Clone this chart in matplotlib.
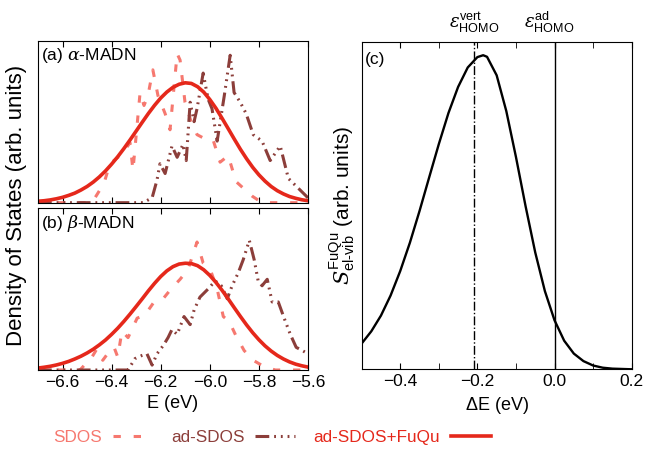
import numpy as np
import matplotlib
matplotlib.use("Agg")
import matplotlib.pyplot as plt

plt.rcParams['font.family'] = ['Liberation Sans', 'DejaVu Sans']
plt.rcParams['mathtext.fontset'] = 'custom'
plt.rcParams['mathtext.rm'] = 'Liberation Sans'
plt.rcParams['mathtext.it'] = 'DejaVu Serif:italic'
plt.rcParams['font.size'] = 12

# ---- data ----
# SDOS, panel (a)
sdos_a_E = [-6.70, -6.48, -6.431, -6.415, -6.399, -6.358, -6.325, -6.313, -6.284, -6.268,
            -6.252, -6.232, -6.211, -6.182, -6.162, -6.133, -6.121, -6.101, -6.076, -6.052,
            -6.027, -5.987, -5.958, -5.925, -5.893, -5.827, -5.787, -5.60]
sdos_a = [0.0, 0.0, 0.12, 0.20, 0.25, 0.30, 0.37, 0.20, 0.68, 0.60,
          0.66, 0.82, 0.66, 0.55, 0.45, 0.92, 0.88, 0.62, 0.50, 0.42,
          0.40, 0.39, 0.25, 0.29, 0.13, 0.04, 0.0, 0.0]

# ad-SDOS, panel (a)
adsdos_a_E = [-6.70, -6.272, -6.235, -6.215, -6.203, -6.182, -6.154, -6.133, -6.109, -6.096,
              -6.080, -6.064, -6.052, -6.027, -6.007, -5.991, -5.970, -5.941, -5.917, -5.901,
              -5.876, -5.852, -5.823, -5.787, -5.754, -5.713, -5.680, -5.640, -5.60]
adsdos_a = [0.0, 0.0, 0.03, 0.14, 0.24, 0.18, 0.35, 0.28, 0.36, 0.26,
            0.62, 0.50, 0.58, 0.80, 0.64, 0.58, 0.38, 0.66, 0.91, 0.68,
            0.62, 0.55, 0.42, 0.38, 0.26, 0.35, 0.15, 0.09, 0.03]

# SDOS, panel (b)
sdos_b_E = [-6.70, -6.529, -6.480, -6.460, -6.436, -6.407, -6.390, -6.375, -6.358, -6.333,
            -6.296, -6.264, -6.227, -6.190, -6.158, -6.121, -6.089, -6.052, -6.027, -5.998,
            -5.970, -5.945, -5.921, -5.893, -5.860, -5.823, -5.778, -5.733, -5.60]
sdos_b = [0.0, 0.0, 0.08, 0.13, 0.06, 0.12, 0.14, 0.08, 0.24, 0.20,
          0.32, 0.34, 0.42, 0.44, 0.50, 0.56, 0.62, 0.79, 0.66, 0.62,
          0.50, 0.33, 0.30, 0.21, 0.12, 0.06, 0.02, 0.0, 0.0]

# ad-SDOS, panel (b)
adsdos_b_E = [-6.70, -6.333, -6.305, -6.276, -6.256, -6.235, -6.215, -6.190, -6.170, -6.154,
              -6.133, -6.105, -6.080, -6.064, -6.040, -6.007, -5.978, -5.953, -5.929, -5.909,
              -5.884, -5.864, -5.839, -5.819, -5.803, -5.787, -5.766, -5.746, -5.721, -5.697,
              -5.672, -5.648, -5.623, -5.60]
adsdos_b = [0.0, 0.0, 0.07, 0.09, 0.10, 0.03, 0.10, 0.15, 0.20, 0.25,
            0.22, 0.33, 0.28, 0.37, 0.45, 0.50, 0.55, 0.52, 0.44, 0.52,
            0.60, 0.68, 0.80, 0.68, 0.55, 0.52, 0.56, 0.42, 0.42, 0.32,
            0.22, 0.14, 0.12, 0.10]

# ad-SDOS+FuQu on a 0.025 eV grid
fuqu_E = np.round(np.arange(-6.700, -5.5999, 0.025), 3)
fuqu_a = [0.009, 0.012, 0.017, 0.024, 0.033, 0.045, 0.059, 0.078, 0.100, 0.127,
          0.159, 0.196, 0.238, 0.284, 0.334, 0.387, 0.442, 0.497, 0.551, 0.601,
          0.646, 0.683, 0.712, 0.731, 0.740, 0.736, 0.716, 0.683, 0.637, 0.583,
          0.521, 0.457, 0.392, 0.329, 0.271, 0.218, 0.172, 0.133, 0.100, 0.074,
          0.054, 0.038, 0.027, 0.018, 0.012]
fuqu_b = [0.012, 0.017, 0.023, 0.031, 0.041, 0.053, 0.068, 0.085, 0.105, 0.128,
          0.155, 0.185, 0.220, 0.258, 0.300, 0.345, 0.392, 0.440, 0.489, 0.535,
          0.577, 0.612, 0.638, 0.654, 0.659, 0.657, 0.644, 0.619, 0.584, 0.541,
          0.492, 0.439, 0.384, 0.330, 0.278, 0.230, 0.187, 0.149, 0.117, 0.090,
          0.068, 0.050, 0.036, 0.026, 0.018]

# panel (c): FuQu el-vib spectral function
dE = [-0.5, -0.475, -0.45, -0.425, -0.4, -0.375, -0.35, -0.325, -0.3, -0.275,
      -0.25, -0.225, -0.2, -0.185, -0.175, -0.15, -0.125, -0.1, -0.075, -0.05,
      -0.025, 0.0, 0.025, 0.05, 0.075, 0.1, 0.125, 0.15, 0.175, 0.2]
s_elvib = [0.082, 0.121, 0.171, 0.235, 0.313, 0.403, 0.504, 0.611, 0.717, 0.816,
           0.899, 0.961, 0.994, 1.000, 0.995, 0.936, 0.822, 0.676, 0.519, 0.372,
           0.249, 0.156, 0.091, 0.050, 0.026, 0.012, 0.005, 0.002, 0.001, 0.0]
e_vert = -0.208
e_ad = 0.0

c_sdos = '#f6786f'
c_ad = '#8c3e3a'
c_fuqu = '#e5281b'

# ---- figure ----
fig = plt.figure(figsize=(6.47, 4.51), dpi=100)
ax_a = fig.add_axes([0.0587, 0.5506, 0.4173, 0.3592])
ax_b = fig.add_axes([0.0587, 0.1796, 0.4173, 0.3592])
ax_c = fig.add_axes([0.559, 0.1812, 0.4173, 0.7263])

dash_sdos = (0, (2.4, 4.2))
dash_ad = (0, (4.5, 1.6, 0.6, 1.6, 0.6, 1.6, 0.6, 1.6))

for ax, (sE, s, aE, a, f, lab) in zip(
        [ax_a, ax_b],
        [(sdos_a_E, sdos_a, adsdos_a_E, adsdos_a, fuqu_a, r'(a) $\alpha$-MADN'),
         (sdos_b_E, sdos_b, adsdos_b_E, adsdos_b, fuqu_b, r'(b) $\beta$-MADN')]):
    ax.plot(sE, s, color=c_sdos, lw=2.2, ls=dash_sdos, label='SDOS')
    ax.plot(aE, a, color=c_ad, lw=2.2, ls=dash_ad, label='ad-SDOS')
    ax.plot(fuqu_E, f, color=c_fuqu, lw=2.6, label='ad-SDOS+FuQu')
    ax.set_xlim(-6.7, -5.6)
    ax.set_ylim(0, 1)
    ax.set_xticks([-6.6, -6.4, -6.2, -6.0, -5.8, -5.6])
    ax.set_yticks([])
    ax.tick_params(axis='x', direction='in', top=True, length=4, labelsize=12.5)
    ax.text(0.012, 0.97, lab, transform=ax.transAxes, ha='left', va='top', fontsize=12.5)

ax_a.tick_params(axis='x', labelbottom=False)
ax_b.set_xlabel('E (eV)', fontsize=13)

ax_c.plot(dE, s_elvib, color='black', lw=1.7)
ax_c.axvline(e_vert, color='black', lw=1.0, ls='-.')
ax_c.axvline(e_ad, color='black', lw=1.0)
ax_c.set_xlim(-0.5, 0.2)
ax_c.set_ylim(0, 1.043)
ax_c.set_xticks([-0.4, -0.2, 0.0, 0.2])
ax_c.set_xticks([-0.3, -0.1, 0.1], minor=True)
ax_c.set_xticklabels(['\u22120.4', '\u22120.2', '0.0', '0.2'])
ax_c.set_yticks([])
ax_c.tick_params(axis='x', which='both', direction='in', top=True, length=4, labelsize=12.5)
ax_c.set_xlabel(r'$\Delta$E (eV)', fontsize=13)
ax_c.set_ylabel(r'$S^{\mathrm{FuQu}}_{\mathrm{el‐vib}}$ (arb. units)', fontsize=15, labelpad=3)
ax_c.text(0.012, 0.97, '(c)', transform=ax_c.transAxes, ha='left', va='top', fontsize=12.5)
ax_c.text(e_vert, 1.02, r'$\varepsilon^{\mathrm{vert}}_{\mathrm{HOMO}}$',
          transform=ax_c.get_xaxis_transform(), ha='center', va='bottom', fontsize=13)
ax_c.text(e_ad - 0.015, 1.02, r'$\varepsilon^{\mathrm{ad}}_{\mathrm{HOMO}}$',
          transform=ax_c.get_xaxis_transform(), ha='center', va='bottom', fontsize=13)

fig.text(0.025, 0.5437, 'Density of States (arb. units)', rotation=90,
         ha='center', va='center', fontsize=16)

handles, labels = ax_a.get_legend_handles_labels()
fig.legend(handles, labels, loc='center', bbox_to_anchor=(0.42, 0.031), ncol=3,
           frameon=False, markerfirst=False, handlelength=2.3, columnspacing=1.1,
           labelcolor='linecolor', fontsize=12.3, handletextpad=0.65)

fig.savefig('out.png', dpi=100)
